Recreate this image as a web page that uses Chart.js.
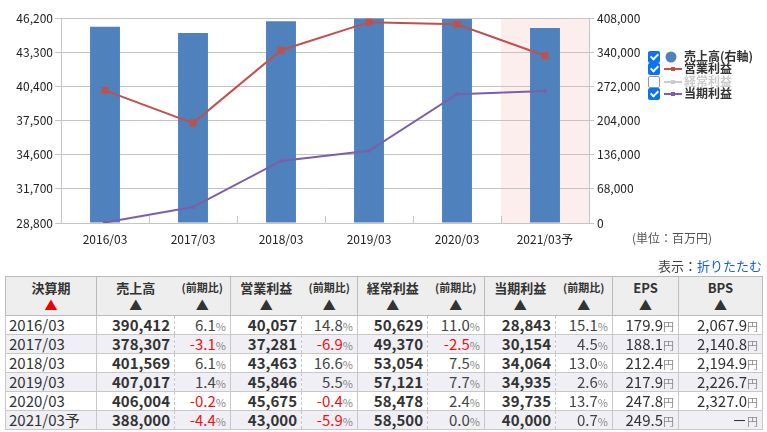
<!DOCTYPE html>
<html lang="ja">
<head>
<meta charset="utf-8">
<script src="https://cdn.jsdelivr.net/npm/chart.js@4.4.0/dist/chart.umd.min.js"></script>
<style>
  body { margin:0; width:767px; height:432px; overflow:hidden; background:#fff;
         font-family:"Noto Sans CJK JP", sans-serif; color:#333; position:relative; }
  #chartBox { position:absolute; left:0; top:0; width:767px; height:252px; }
  #legend { position:absolute; left:648px; top:51px; font-size:12px; font-weight:bold; }
  #legend .row { height:12.3px; line-height:12px; position:relative; white-space:nowrap; }
  #legend .cb { position:absolute; left:0; top:0; width:12px; height:12px; border-radius:2px;
                background:#0a74f0; box-sizing:border-box; }
  #legend .cb::after { content:''; position:absolute; left:4px; top:1px; width:3px; height:6px;
                       border:solid #fff; border-width:0 2px 2px 0; transform:rotate(45deg); }
  #legend .cb.off { background:#fff; border:1px solid #999; }
  #legend .cb.off::after { display:none; }
  #legend .ic { position:absolute; left:15px; top:0; width:20px; height:12px; }
  #legend .txt { position:absolute; left:36px; top:-1px; }
  #unit { position:absolute; left:632px; top:229px; font-size:12px; color:#555; }
  #toggle { position:absolute; right:5px; top:256px; font-size:13px; color:#444; }
  #toggle a { color:#1560d0; text-decoration:none; }
  #tbl { position:absolute; left:5px; top:276px; width:757px; border-collapse:collapse;
         table-layout:fixed; font-size:15px; }
  #tbl th { background:#eeeeee; border:1px solid #bbb; font-size:13px; font-weight:bold;
            text-align:center; vertical-align:middle; line-height:17px; padding:0; color:#333; }
  #tbl th.y { font-size:11px; }
  #tbl th .tri { font-size:13px; color:#333; }
  #tbl th .tri.red { color:#ee0000; }
  #tbl th.v { border-right:none; }
  #tbl th.y { border-left:none; }
  #tbl thead tr { height:39px; }
  #tbl tbody tr { height:18px; }
  #tbl td { border:1px solid #c8c8c8; padding:0 4px; height:18px; line-height:16px;
            text-align:right; white-space:nowrap; overflow:hidden; }
  #tbl td.p { text-align:left; padding-left:3px; }
  #tbl td.v { font-weight:bold; border-right:1px dashed #c8c8c8; }
  #tbl td.y { border-left:1px dashed #c8c8c8; color:#444; }
  #tbl td.y.neg { color:#ee1111; }
  #tbl small { font-size:11px; line-height:0; color:#888; font-weight:normal; }
  #tbl tbody tr:nth-child(even) td { background:#efeff5; }
</style>
</head>
<body>
<div id="chartBox"><canvas id="chart" width="767" height="252"></canvas></div>
<div id="legend"></div>
<div id="unit">(単位：百万円)</div>
<div id="toggle">表示：<a>折りたたむ</a></div>
<table id="tbl">
  <colgroup>
    <col style="width:91px"><col style="width:78px"><col style="width:56px">
    <col style="width:71px"><col style="width:56px"><col style="width:70px">
    <col style="width:57px"><col style="width:71px"><col style="width:57px">
    <col style="width:66px"><col style="width:84px">
  </colgroup>
  <thead></thead>
  <tbody></tbody>
</table>
<script>
const categories = ['2016/03', '2017/03', '2018/03', '2019/03', '2020/03', '2021/03予'];
const sales = [390412, 378307, 401569, 407017, 406004, 388000];
const operatingProfit = [40057, 37281, 43463, 45846, 45675, 43000];
const ordinaryProfit = [50629, 49370, 53054, 57121, 58478, 58500];
const netProfit = [28843, 30154, 34064, 34935, 39735, 40000];
const salesYoY = [6.1, -3.1, 6.1, 1.4, -0.2, -4.4];
const opYoY = [14.8, -6.9, 16.6, 5.5, -0.4, -5.9];
const ordYoY = [11.0, -2.5, 7.5, 7.7, 2.4, 0.0];
const netYoY = [15.1, 4.5, 13.0, 2.6, 13.7, 0.7];
const eps = [179.9, 188.1, 212.4, 217.9, 247.8, 249.5];
const bps = [2067.9, 2140.8, 2194.9, 2226.7, 2327.0, null];
const leftTicks = [28800, 31700, 34600, 37500, 40400, 43300, 46200];
const rightTicks = [0, 68000, 136000, 204000, 272000, 340000, 408000];

const gridColor = '#c4c4c4';

// pink band behind the forecast year + small inward ticks at category borders
const bandPlugin = {
  id: 'band',
  beforeDraw(chart) {
    const { ctx, chartArea, scales: { x } } = chart;
    const half = (x.getPixelForValue(1) - x.getPixelForValue(0)) / 2;
    const c = x.getPixelForValue(categories.length - 1);
    ctx.save();
    ctx.fillStyle = '#fdeeee';
    ctx.fillRect(c - half, chartArea.top, half * 2, chartArea.bottom - chartArea.top);
    ctx.strokeStyle = gridColor;
    ctx.lineWidth = 1;
    for (let k = 1; k < categories.length; k++) {
      const xb = Math.round(x.getPixelForValue(k) - half) + 0.5;
      ctx.beginPath();
      ctx.moveTo(xb, chartArea.bottom);
      ctx.lineTo(xb, chartArea.bottom - 7);
      ctx.stroke();
    }
    ctx.restore();
  }
};

Chart.defaults.font.family = '"Noto Sans CJK JP", sans-serif';
Chart.defaults.font.size = 12;
Chart.defaults.color = '#333';

new Chart(document.getElementById('chart'), {
  data: {
    labels: categories,
    datasets: [
      { type: 'line', label: '営業利益', data: operatingProfit, yAxisID: 'y', order: 1,
        borderColor: '#c0504d', backgroundColor: '#c0504d', borderWidth: 2,
        pointStyle: 'rect', pointRadius: 3.5, tension: 0 },
      { type: 'line', label: '経常利益', data: ordinaryProfit, yAxisID: 'y', order: 1, hidden: true,
        borderColor: '#cccccc', backgroundColor: '#cccccc', borderWidth: 2, pointRadius: 2 },
      { type: 'line', label: '当期利益', data: netProfit, yAxisID: 'y', order: 1,
        borderColor: '#7b5fa8', backgroundColor: '#7b5fa8', borderWidth: 2,
        pointRadius: 1, tension: 0 },
      { type: 'bar', label: '売上高(右軸)', data: sales, yAxisID: 'y2', order: 2,
        backgroundColor: '#4f81bd', categoryPercentage: 1, barPercentage: 0.34 }
    ]
  },
  options: {
    responsive: false,
    animation: false,
    layout: { padding: { top: 18, left: 0, right: 0, bottom: 0 } },
    plugins: { legend: { display: false }, tooltip: { enabled: false } },
    scales: {
      x: {
        grid: { display: false },
        border: { display: false },
        ticks: { padding: 1, color: '#222', maxRotation: 0 },
        afterFit(s) { s.height = 29; }
      },
      y: {
        position: 'left',
        min: leftTicks[0], max: leftTicks[leftTicks.length - 1],
        afterBuildTicks(s) { s.ticks = leftTicks.map(v => ({ value: v })); },
        grid: { color: gridColor, tickLength: 6 },
        border: { display: true, color: gridColor },
        ticks: { padding: 2, color: '#222', callback: v => v.toLocaleString('en-US') },
        afterFit(s) { s.width = 61; }
      },
      y2: {
        position: 'right',
        min: rightTicks[0], max: rightTicks[rightTicks.length - 1],
        afterBuildTicks(s) { s.ticks = rightTicks.map(v => ({ value: v })); },
        grid: { drawOnChartArea: false, color: gridColor, tickLength: 5 },
        border: { display: true, color: gridColor },
        ticks: { padding: 3, color: '#222', callback: v => v.toLocaleString('en-US') },
        afterFit(s) { s.width = 178; }
      }
    }
  },
  plugins: [bandPlugin]
});

// legend (html)
const legendItems = [
  { text: '売上高(右軸)', kind: 'dot', color: '#4f81bd', on: true },
  { text: '営業利益', kind: 'line', color: '#c0504d', on: true },
  { text: '経常利益', kind: 'line', color: '#cccccc', on: false },
  { text: '当期利益', kind: 'line', color: '#7b5fa8', on: true }
];
document.getElementById('legend').innerHTML = legendItems.map(it => {
  const icon = it.kind === 'dot'
    ? `<svg class="ic" viewBox="0 0 20 12"><circle cx="8" cy="6" r="5.5" fill="${it.color}"/></svg>`
    : `<svg class="ic" viewBox="0 0 20 12"><line x1="1" y1="6" x2="19" y2="6" stroke="${it.color}" stroke-width="2"/><rect x="8" y="4" width="4" height="4" fill="${it.color}"/></svg>`;
  return `<div class="row"><span class="cb${it.on ? '' : ' off'}"></span>${icon}` +
         `<span class="txt" style="color:${it.on ? '#333' : '#ccc'}">${it.text}</span></div>`;
}).join('');

// table
const fmt = v => v.toLocaleString('en-US');
const pct = v => `<td class="y${v < 0 ? ' neg' : ''}">${v.toFixed(1)}<small>%</small></td>`;
const tri = '<br><span class="tri">▲</span>';
document.querySelector('#tbl thead').innerHTML =
  '<tr><th>決算期<br><span class="tri red">▲</span></th>' +
  ['売上高', '営業利益', '経常利益', '当期利益'].map(h =>
    `<th class="v">${h}${tri}</th><th class="y">(前期比)${tri}</th>`).join('') +
  `<th>EPS${tri}</th><th>BPS${tri}</th></tr>`;
document.querySelector('#tbl tbody').innerHTML = categories.map((c, i) =>
  `<tr><td class="p">${c}</td>` +
  `<td class="v">${fmt(sales[i])}</td>${pct(salesYoY[i])}` +
  `<td class="v">${fmt(operatingProfit[i])}</td>${pct(opYoY[i])}` +
  `<td class="v">${fmt(ordinaryProfit[i])}</td>${pct(ordYoY[i])}` +
  `<td class="v">${fmt(netProfit[i])}</td>${pct(netYoY[i])}` +
  `<td>${eps[i].toFixed(1)}<small>円</small></td>` +
  `<td>${bps[i] === null ? '－' : bps[i].toLocaleString('en-US', { minimumFractionDigits: 1 })}<small>円</small></td></tr>`
).join('');
</script>
</body>
</html>
